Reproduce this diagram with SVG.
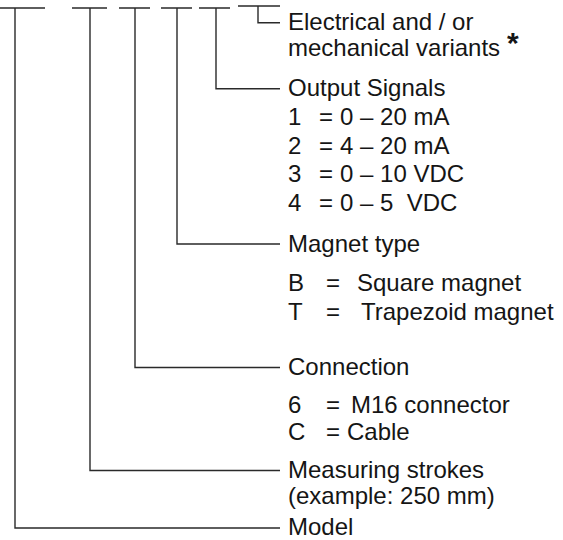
<svg xmlns="http://www.w3.org/2000/svg" width="563" height="540" viewBox="0 0 563 540">
<style>
.ln{fill:none;stroke:#2a2a2a;stroke-width:1.4;stroke-linecap:butt}
text{font-family:"Liberation Sans",Arial,Helvetica,sans-serif;font-size:24px;fill:#151515}
.ast{font-size:30px;font-weight:bold}
</style>
<rect width="563" height="540" fill="#ffffff"/>
<g id="connectors">
<path class="ln" d="M0,8H45 M15,8V528H280"/>
<path class="ln" d="M72,8H107 M90,8V470.5H280"/>
<path class="ln" d="M119,8H150 M135,8V367.5H280"/>
<path class="ln" d="M161,8H192 M177,8V244H280"/>
<path class="ln" d="M199,8H230 M216,8V88.7H280"/>
<path class="ln" d="M238,6H280 M258,6V22.7H280"/>
</g>
<g id="variants">
<text x="288" y="30">Electrical and / or</text>
<text x="288" y="55.5">mechanical variants</text>
<text class="ast" x="507" y="53">*</text>
</g>
<g id="output-signals">
<text x="288" y="95.5">Output Signals</text>
<text x="288" y="125">1</text><text x="319" y="125">=</text><text x="340" y="125">0 – 20 mA</text>
<text x="288" y="153.5">2</text><text x="319" y="153.5">=</text><text x="340" y="153.5">4 – 20 mA</text>
<text x="288" y="182">3</text><text x="319" y="182">=</text><text x="340" y="182">0 – 10 VDC</text>
<text x="288" y="210.5">4</text><text x="319" y="210.5">=</text><text x="340" y="210.5" xml:space="preserve">0 – 5  VDC</text>
</g>
<g id="magnet-type">
<text x="288" y="251.5">Magnet type</text>
<text x="288" y="290.5">B</text><text x="326" y="290.5">=</text><text x="357" y="290.5">Square magnet</text>
<text x="288" y="319.5">T</text><text x="326" y="319.5">=</text><text x="361" y="319.5">Trapezoid magnet</text>
</g>
<g id="connection">
<text x="288" y="375">Connection</text>
<text x="288" y="412.5">6</text><text x="326" y="412.5">=</text><text x="351" y="412.5">M16 connector</text>
<text x="288" y="440">C</text><text x="326" y="440">=</text><text x="347" y="440">Cable</text>
</g>
<g id="measuring-strokes">
<text x="288" y="478">Measuring strokes</text>
<text x="288" y="503.5">(example: 250 mm)</text>
</g>
<g id="model">
<text x="288" y="534.5">Model</text>
</g>
</svg>
